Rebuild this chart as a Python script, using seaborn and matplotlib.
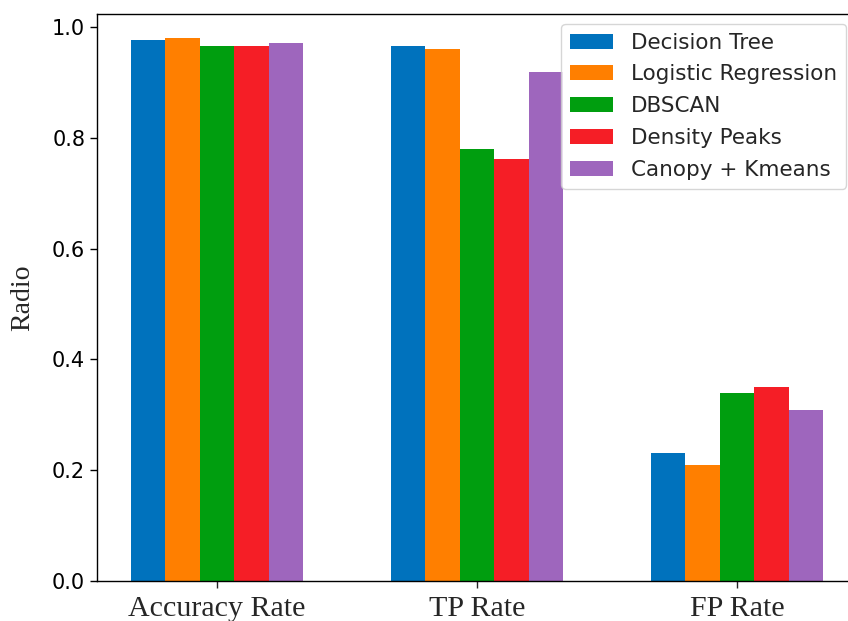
import matplotlib
matplotlib.use("Agg")
import matplotlib.pyplot as plt
import seaborn as sns
import pandas as pd

metrics = ["Accuracy Rate", "TP Rate", "FP Rate"]
methods = ["Decision Tree", "Logistic Regression", "DBSCAN", "Density Peaks", "Canopy + Kmeans"]
decision_tree = [0.976, 0.965, 0.231]
logistic_regression = [0.980, 0.960, 0.209]
dbscan = [0.966, 0.780, 0.339]
density_peaks = [0.966, 0.762, 0.350]
canopy_kmeans = [0.971, 0.919, 0.309]
colors = ["#0072BD", "#FF7F00", "#009E0F", "#F51E26", "#9E66BD"]

series = [decision_tree, logistic_regression, dbscan, density_peaks, canopy_kmeans]
rows = []
for m, vals in zip(methods, series):
    for metric, v in zip(metrics, vals):
        rows.append({"Metric": metric, "Method": m, "Value": v})
df = pd.DataFrame(rows)

sns.set_style("ticks")
plt.rcParams["font.family"] = ["DejaVu Sans"]

fig = plt.figure(figsize=(8.48, 6.21), dpi=100)
ax = fig.add_axes([97/848, 40/621, 760/848, 567/621])

sns.barplot(data=df, x="Metric", y="Value", hue="Method", order=metrics,
            hue_order=methods, palette=colors, width=0.665, gap=0,
            linewidth=0, saturation=1, ax=ax, legend=True)

ax.set_xlim(-0.4615, 2.4615)
ax.set_ylim(0, 1.0235)
ax.set_yticks([0.0, 0.2, 0.4, 0.6, 0.8, 1.0])
ax.tick_params(axis="y", labelsize=15, length=5, width=1, colors="black")
ax.tick_params(axis="x", length=5, width=1, pad=6)
for lab in ax.get_xticklabels():
    lab.set_fontfamily("Liberation Serif")
    lab.set_fontsize(21.6)
ax.set_xlabel("")
ax.set_ylabel("Radio", fontfamily="Liberation Serif", fontsize=20, labelpad=12)
for s in ax.spines.values():
    s.set_linewidth(1)
    s.set_color("black")

ax.legend(loc="upper right", bbox_to_anchor=(846/848, 597/621),
          bbox_transform=fig.transFigure, borderaxespad=0, fontsize=15.5,
          labelspacing=0.55, handletextpad=0.85, frameon=True, fancybox=True,
          title=None)

fig.savefig("out.png", dpi=100)
